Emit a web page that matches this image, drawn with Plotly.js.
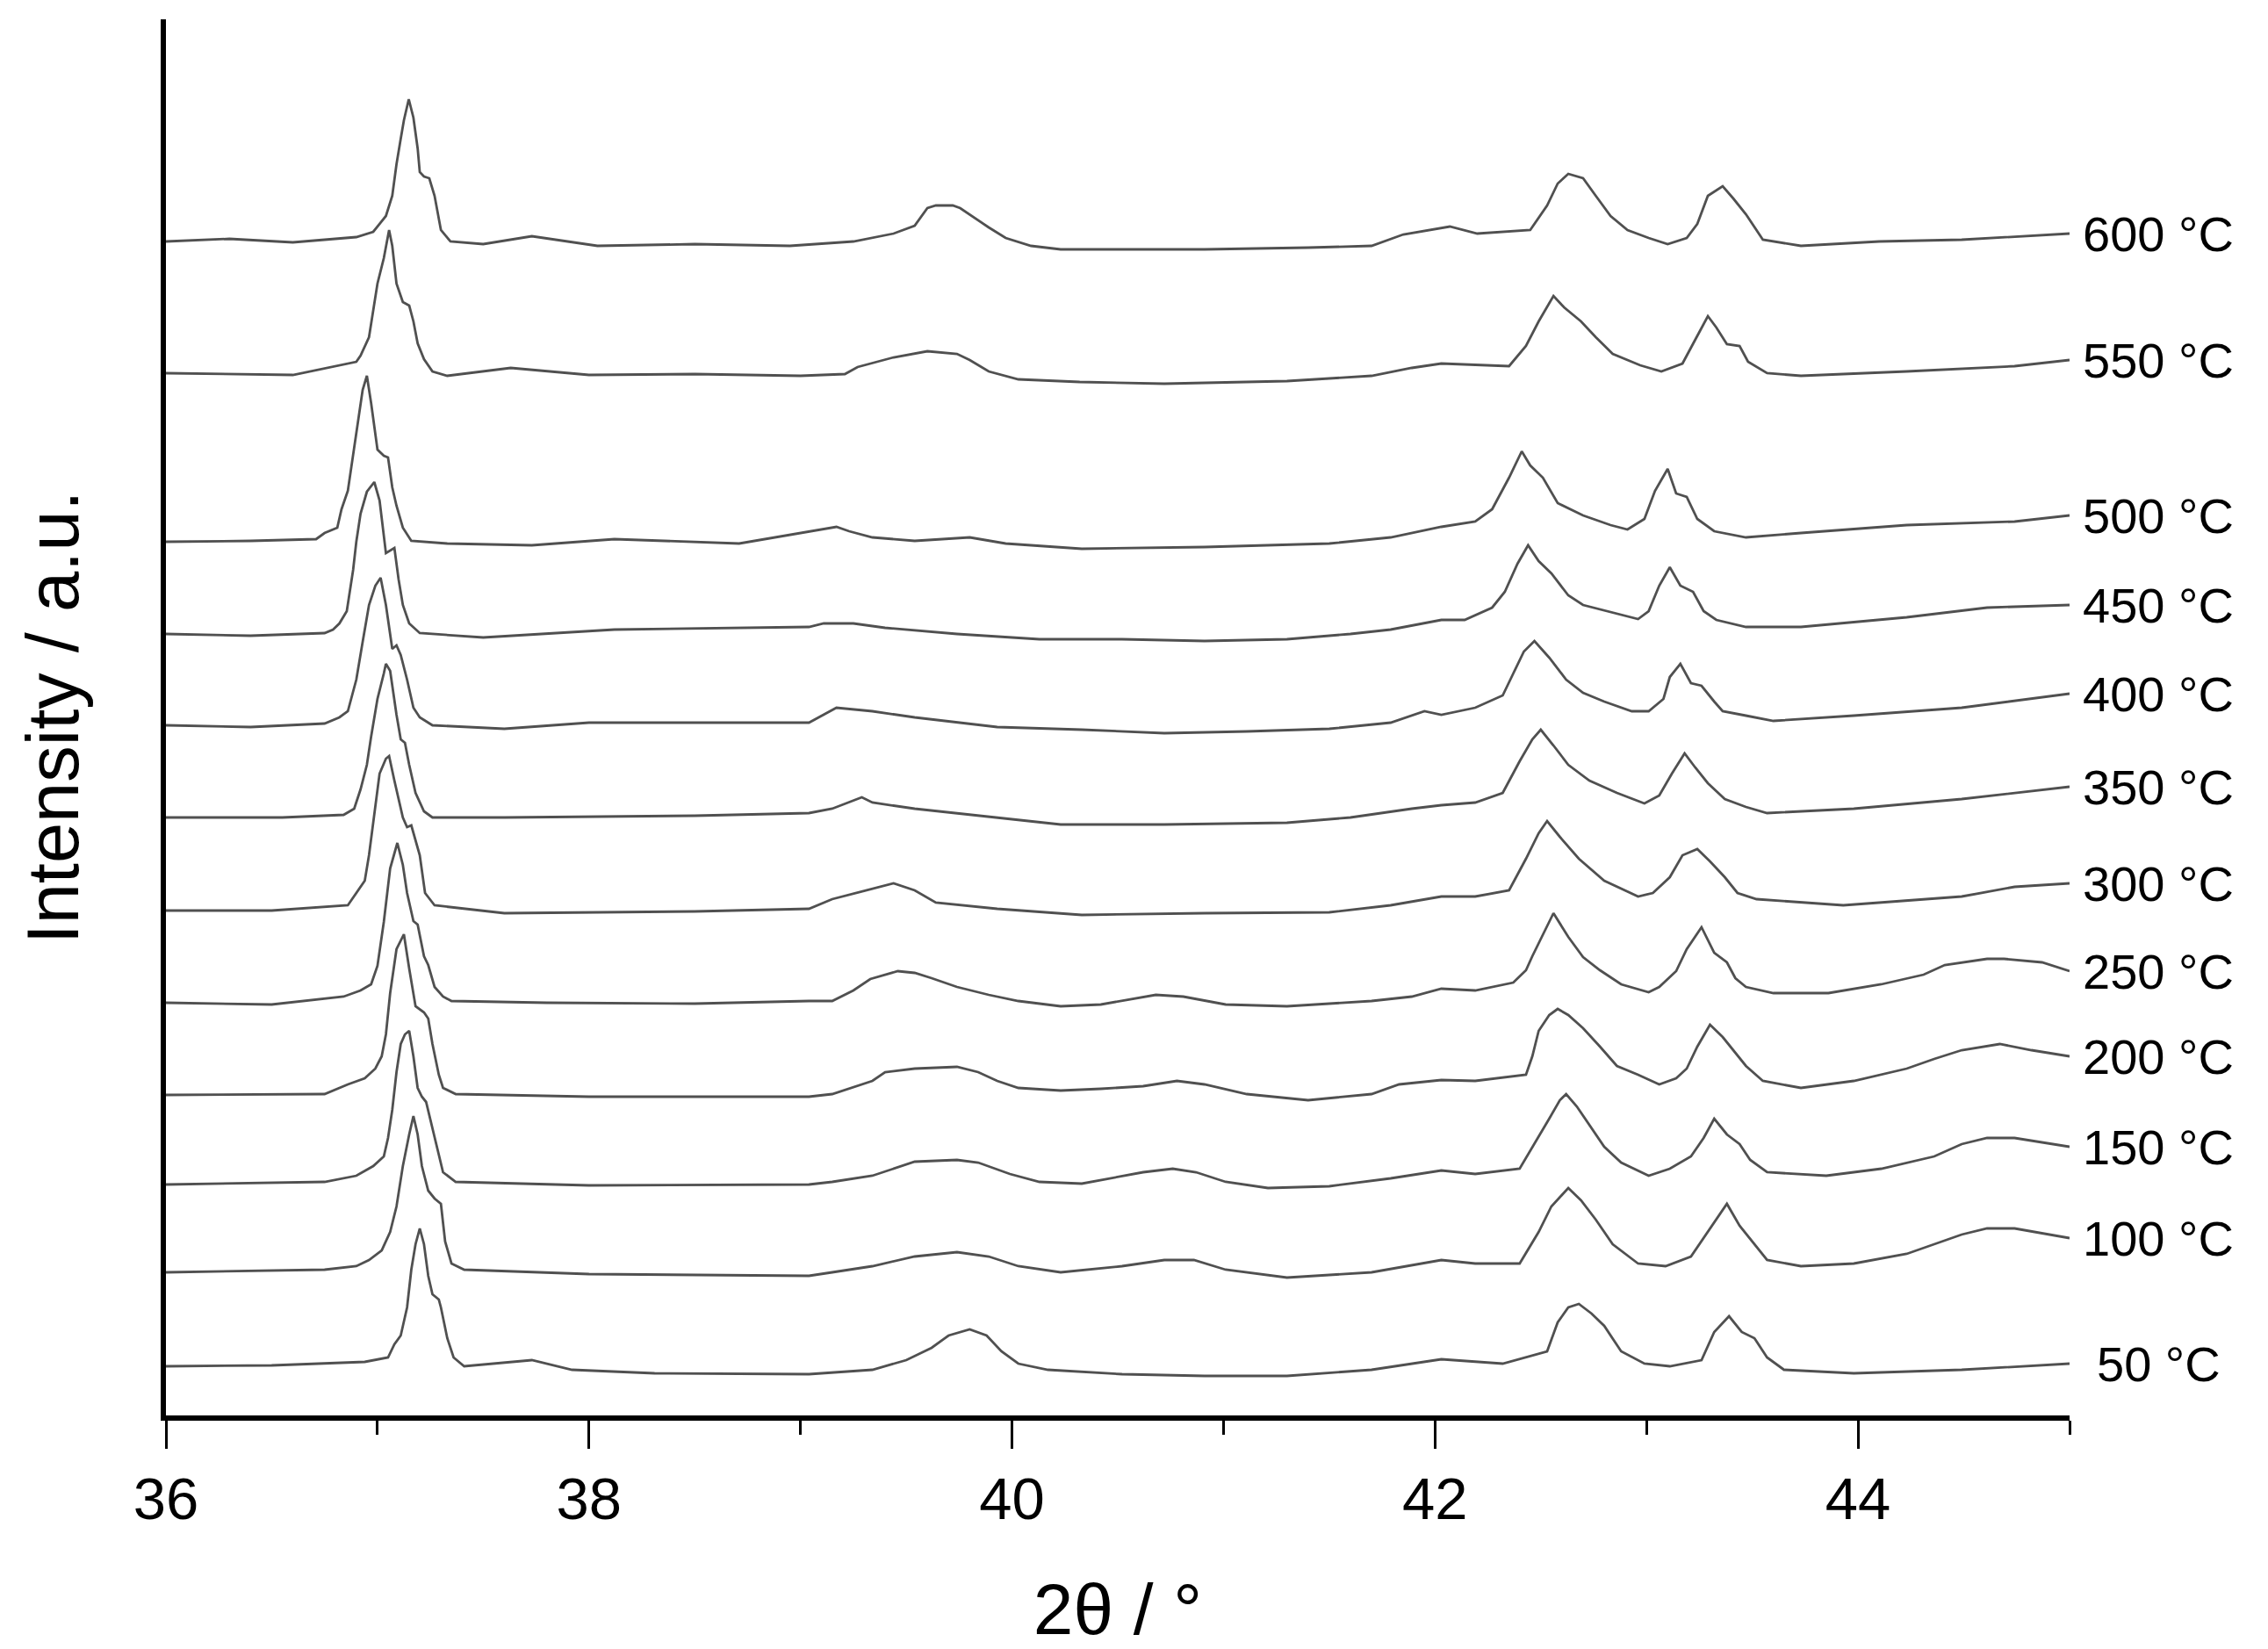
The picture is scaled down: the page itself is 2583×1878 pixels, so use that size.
<!DOCTYPE html>
<html>
<head>
<meta charset="utf-8">
<script src="https://cdn.plot.ly/plotly-3.0.1.min.js"></script>
<style>html,body{margin:0;padding:0;background:#fff;}#chart{width:2583px;height:1878px;}</style>
</head>
<body>
<div id="chart"></div>
<script>
// Series labels (bottom to top)
const labels = ['50 °C','100 °C','150 °C','200 °C','250 °C','300 °C','350 °C','400 °C','450 °C','500 °C','550 °C','600 °C'];

// 2θ / intensity (a.u., stacked offsets included)
const x50 = [36.00,36.50,36.94,37.05,37.08,37.11,37.14,37.16,37.18,37.20,37.22,37.24,37.26,37.29,37.30,37.33,37.36,37.41,37.73,37.92,38.31,39.04,39.34,39.50,39.62,39.70,39.80,39.88,39.95,40.03,40.17,40.52,40.91,41.30,41.70,42.03,42.32,42.53,42.58,42.63,42.68,42.74,42.80,42.88,42.99,43.11,43.26,43.32,43.39,43.45,43.51,43.57,43.65,43.98,44.49,45.00];
const y50 = [56,57,61,66,81,91,123,166,195,213,195,159,138,132,123,88,66,56,63,52,48,47,52,63,77,91,98,91,73,59,52,47,45,45,52,64,59,73,106,123,127,116,102,73,59,56,63,95,113,95,88,66,52,48,52,59];

const x100 = [36.00,36.75,36.90,36.96,37.02,37.06,37.09,37.12,37.15,37.17,37.19,37.21,37.24,37.27,37.30,37.32,37.35,37.41,38.00,39.04,39.15,39.34,39.54,39.74,39.89,40.03,40.23,40.52,40.72,40.86,41.01,41.30,41.70,42.03,42.19,42.40,42.49,42.55,42.63,42.69,42.76,42.84,42.96,43.09,43.21,43.29,43.38,43.44,43.51,43.57,43.73,43.98,44.23,44.49,44.61,44.74,45.00];
const y100 = [163,166,170,177,188,209,238,284,320,341,320,284,256,247,241,198,173,166,161,159,163,170,181,186,181,170,163,170,177,177,166,157,163,177,173,173,209,238,259,245,223,195,173,170,181,209,241,216,195,177,170,173,184,206,213,213,202];

const x150 = [36.00,36.75,36.90,36.98,37.03,37.05,37.07,37.09,37.11,37.13,37.15,37.17,37.19,37.21,37.23,37.26,37.29,37.31,37.37,38.00,39.04,39.15,39.34,39.44,39.54,39.74,39.84,39.99,40.13,40.33,40.62,40.76,40.87,41.01,41.21,41.50,41.79,42.03,42.19,42.40,42.47,42.54,42.59,42.62,42.67,42.73,42.80,42.88,43.01,43.11,43.21,43.27,43.32,43.38,43.44,43.49,43.57,43.85,44.11,44.36,44.49,44.61,44.74,45.00];
const y150 = [263,266,273,284,295,316,348,391,423,434,438,409,373,363,357,327,295,277,266,262,263,266,273,281,289,291,288,275,266,264,277,281,277,266,259,261,270,279,275,281,309,338,359,366,352,331,306,288,273,281,295,316,338,320,309,291,277,273,281,295,309,316,316,306];

const x200 = [36.00,36.75,36.86,36.94,36.99,37.02,37.04,37.06,37.09,37.125,37.15,37.18,37.22,37.24,37.26,37.29,37.31,37.37,38.00,39.04,39.15,39.34,39.40,39.54,39.74,39.84,39.93,40.03,40.23,40.42,40.62,40.78,40.91,41.11,41.40,41.70,41.83,42.03,42.19,42.43,42.46,42.49,42.54,42.58,42.63,42.70,42.78,42.86,42.96,43.06,43.14,43.19,43.24,43.30,43.36,43.41,43.47,43.55,43.73,43.98,44.23,44.36,44.49,44.67,44.82,45.00];
const y200 = [365,366,377,384,395,409,434,481,531,548,509,466,459,452,423,388,373,366,363,363,366,381,391,395,397,391,381,373,370,372,375,381,377,366,359,366,377,382,381,388,409,438,456,463,456,441,420,398,388,377,384,395,420,445,431,416,398,381,373,381,395,406,416,423,416,409];

const x250 = [36.00,36.50,36.84,36.92,36.97,37.00,37.03,37.06,37.094,37.12,37.14,37.17,37.19,37.22,37.24,37.27,37.31,37.35,37.80,38.50,39.04,39.15,39.25,39.33,39.46,39.54,39.62,39.74,39.89,40.03,40.23,40.42,40.68,40.81,41.01,41.30,41.70,41.89,42.03,42.19,42.37,42.43,42.46,42.51,42.56,42.63,42.70,42.78,42.88,43.01,43.06,43.14,43.19,43.26,43.32,43.38,43.42,43.47,43.60,43.86,44.11,44.31,44.41,44.61,44.69,44.87,45.00];
const y250 = [470,468,477,484,491,512,562,623,652,627,595,563,559,523,513,488,477,472,470,469,472,472,484,497,506,504,498,488,479,472,466,468,479,477,468,466,472,477,486,484,493,507,523,548,572,545,522,507,491,482,488,506,531,556,527,516,498,488,481,481,491,502,513,520,520,516,506];

const x300 = [36.00,36.50,36.86,36.90,36.94,36.96,36.98,37.01,37.04,37.055,37.08,37.12,37.14,37.16,37.20,37.225,37.27,37.60,38.50,39.04,39.15,39.31,39.44,39.54,39.64,39.93,40.33,40.91,41.50,41.79,42.03,42.19,42.35,42.43,42.49,42.53,42.59,42.68,42.80,42.96,43.03,43.11,43.17,43.24,43.30,43.37,43.43,43.52,43.93,44.49,44.74,45.00];
const y300 = [575,575,581,595,609,638,677,731,748,751,723,681,670,672,638,595,581,572,574,577,588,598,606,598,584,577,570,572,573,581,591,591,598,634,663,677,659,634,609,591,595,613,638,645,631,613,595,588,581,591,602,606];

const x350 = [36.00,36.55,36.84,36.89,36.92,36.95,36.97,37.00,37.03,37.04,37.06,37.09,37.11,37.13,37.15,37.18,37.22,37.26,37.60,38.50,39.04,39.15,39.29,39.34,39.54,39.93,40.23,40.72,41.30,41.60,41.89,42.03,42.19,42.32,42.40,42.46,42.50,42.56,42.63,42.73,42.86,42.99,43.06,43.12,43.18,43.23,43.29,43.37,43.47,43.57,43.98,44.49,45.00];
const y350 = [681,681,684,691,713,741,773,816,845,856,848,798,770,766,741,709,688,681,681,683,686,691,704,698,691,681,673,673,675,681,691,695,698,709,745,770,781,763,741,723,709,697,706,731,754,738,720,702,693,686,691,702,716];

const x400 = [36.00,36.40,36.75,36.82,36.86,36.90,36.93,36.96,36.99,37.015,37.04,37.07,37.09,37.11,37.14,37.17,37.20,37.26,37.60,38.00,39.04,39.17,39.34,39.54,39.93,40.33,40.72,41.11,41.50,41.79,41.95,42.03,42.19,42.32,42.37,42.42,42.47,42.54,42.62,42.70,42.80,42.93,43.01,43.08,43.11,43.16,43.21,43.26,43.32,43.36,43.47,43.60,43.98,44.49,45.00];
const y400 = [786,784,788,795,802,838,881,923,945,954,923,873,877,866,838,806,795,786,782,789,789,806,802,795,784,781,777,779,782,789,802,798,806,820,845,870,882,863,838,823,813,802,802,816,841,856,834,831,813,802,797,791,797,806,822];

const x450 = [36.00,36.40,36.75,36.79,36.82,36.855,36.885,36.90,36.92,36.95,36.985,37.01,37.04,37.08,37.10,37.12,37.15,37.20,37.50,38.12,39.04,39.11,39.25,39.40,39.74,40.13,40.52,40.91,41.30,41.60,41.79,42.03,42.14,42.27,42.33,42.39,42.44,42.49,42.55,42.63,42.70,42.83,42.96,43.01,43.06,43.11,43.16,43.22,43.27,43.33,43.47,43.73,44.23,44.61,45.00];
const y450 = [890,888,891,895,902,916,963,995,1027,1052,1063,1042,982,988,952,923,902,891,886,895,898,902,902,897,890,884,884,882,884,890,895,906,906,920,938,970,991,973,959,934,923,915,907,916,945,966,945,938,916,906,898,898,909,920,923];

const x500 = [36.00,36.40,36.71,36.75,36.81,36.83,36.86,36.89,36.91,36.93,36.95,36.97,37.00,37.03,37.05,37.07,37.09,37.12,37.16,37.33,37.73,38.12,38.71,39.05,39.17,39.23,39.34,39.54,39.80,39.97,40.33,40.91,41.50,41.79,42.03,42.19,42.27,42.35,42.39,42.41,42.45,42.51,42.58,42.70,42.83,42.91,42.99,43.04,43.10,43.14,43.19,43.24,43.32,43.47,43.73,44.23,44.74,45.00];
const y500 = [995,996,998,1005,1011,1032,1053,1103,1139,1168,1184,1153,1100,1093,1091,1057,1036,1011,996,993,991,998,993,1007,1012,1007,1000,996,1000,993,987,989,993,1000,1012,1018,1032,1068,1089,1098,1082,1068,1039,1025,1014,1009,1021,1053,1078,1050,1046,1021,1007,1000,1005,1014,1018,1025];

const x550 = [36.00,36.30,36.60,36.90,36.92,36.96,36.98,37.00,37.03,37.055,37.07,37.09,37.12,37.15,37.17,37.19,37.22,37.26,37.33,37.63,38.00,38.50,39.00,39.21,39.27,39.44,39.60,39.74,39.80,39.89,40.03,40.32,40.72,41.30,41.70,41.89,42.03,42.35,42.43,42.49,42.56,42.61,42.69,42.76,42.84,42.97,43.07,43.17,43.23,43.29,43.33,43.38,43.44,43.48,43.57,43.73,44.23,44.74,45.00];
const y550 = [1187,1186,1185,1200,1207,1228,1261,1289,1318,1350,1332,1289,1268,1264,1246,1221,1203,1189,1184,1193,1185,1186,1184,1186,1194,1205,1212,1209,1202,1189,1180,1177,1175,1178,1184,1193,1198,1195,1218,1246,1275,1262,1246,1228,1209,1196,1189,1198,1225,1252,1239,1220,1218,1200,1187,1184,1189,1195,1202];

const x600 = [36.00,36.30,36.60,36.90,36.98,37.04,37.07,37.09,37.11,37.125,37.148,37.17,37.19,37.20,37.22,37.245,37.27,37.285,37.30,37.345,37.50,37.73,38.04,38.50,38.95,39.25,39.44,39.54,39.60,39.64,39.72,39.755,39.82,39.89,39.97,40.09,40.23,40.91,41.40,41.70,41.85,42.07,42.20,42.45,42.53,42.58,42.63,42.70,42.76,42.83,42.91,43.01,43.10,43.19,43.24,43.29,43.36,43.41,43.47,43.55,43.73,44.10,44.49,45.00];
const y600 = [1337,1340,1336,1342,1348,1366,1389,1425,1454,1475,1499,1478,1443,1416,1411,1409,1389,1368,1350,1337,1334,1343,1332,1334,1332,1337,1346,1355,1375,1378,1378,1375,1364,1353,1341,1332,1328,1328,1330,1332,1345,1354,1346,1350,1378,1403,1414,1409,1389,1366,1350,1341,1334,1341,1357,1389,1400,1386,1368,1339,1332,1337,1339,1346];

const xs = [x50,x100,x150,x200,x250,x300,x350,x400,x450,x500,x550,x600];
const ys = [y50,y100,y150,y200,y250,y300,y350,y400,y450,y500,y550,y600];

const lineColor = '#505050';
const font = 'Liberation Sans, Arial, sans-serif';

const traces = xs.map((x, i) => ({
  type: 'scatter', mode: 'lines', x: x, y: ys[i], name: labels[i],
  line: {color: lineColor, width: 2.8}, hoverinfo: 'skip'
}));

const annotations = labels.map((t, i) => ({
  text: t, xref: 'paper', x: 1.0466, xanchor: 'center',
  yref: 'y', y: ys[i][ys[i].length - 1], yanchor: 'middle',
  showarrow: false, font: {family: font, size: 56, color: '#000'}
}));

const layout = {
  width: 2583, height: 1878,
  margin: {l: 189, r: 226, t: 22, b: 266},
  paper_bgcolor: '#fff', plot_bgcolor: '#fff',
  showlegend: false,
  font: {family: font, color: '#000'},
  xaxis: {
    range: [36, 45], tick0: 36, dtick: 2, ticks: 'outside', ticklen: 32, tickwidth: 3, tickcolor: '#000',
    minor: {dtick: 1, tick0: 36, ticks: 'outside', ticklen: 16, tickwidth: 3, tickcolor: '#000'},
    showline: true, linewidth: 6, linecolor: '#000', showgrid: false, zeroline: false,
    tickfont: {family: font, size: 67, color: '#000'},
    title: {text: '2θ / °', font: {family: font, size: 82, color: '#000'}, standoff: 70},
    automargin: false
  },
  yaxis: {
    range: [0, 1590], showline: true, linewidth: 6, linecolor: '#000', showgrid: false, zeroline: false,
    showticklabels: false, ticks: '',
    title: {text: 'Intensity / a.u.', font: {family: font, size: 83, color: '#000'}, standoff: 68},
    automargin: false
  },
  annotations: annotations
};

Plotly.newPlot('chart', traces, layout, {staticPlot: true, displayModeBar: false});
</script>
</body>
</html>
